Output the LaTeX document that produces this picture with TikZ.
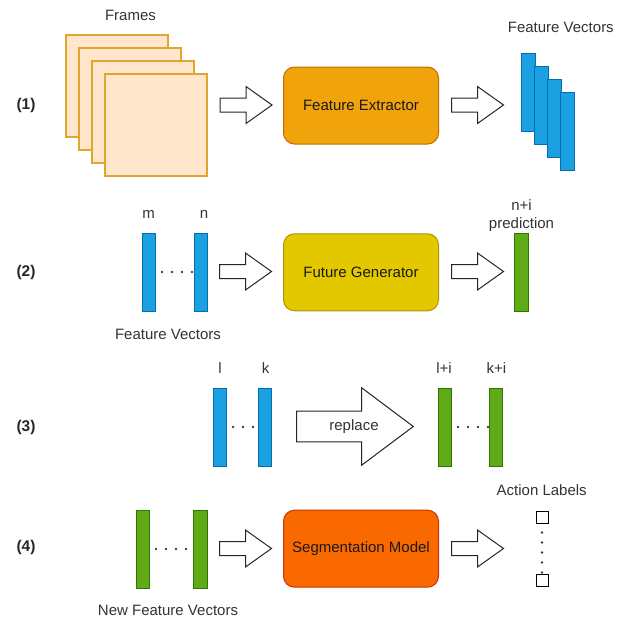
\documentclass[tikz,border=0pt]{standalone}
\usepackage{fontspec}
\setmainfont{Liberation Sans}
\begin{document}
\begin{tikzpicture}[x=1pt,y=-1pt,
  txt/.style={font=\fontsize{15}{18}\selectfont, text=black!80, inner sep=0pt},
  rowlab/.style={font=\fontsize{15.5}{18}\selectfont\bfseries, text=black!85, inner sep=0pt},
  frame/.style={line width=1.3pt},
  proc/.style={rectangle, rounded corners=11pt, minimum width=155pt, minimum height=77pt,
    inner sep=0pt, line width=1pt, font=\fontsize{15}{18}\selectfont, text=black!90},
  bluebar/.style={rectangle, inner sep=0pt, minimum width=13.5pt, minimum height=78pt, line width=1pt},
  greenbar/.style={rectangle, inner sep=0pt, minimum width=13.5pt, minimum height=78pt, line width=1pt},
  dotrow/.style={line width=2.8pt, line cap=round, dash pattern=on 0pt off 10pt, dash phase=7pt, black!75},
  blockarrow/.style={draw=black!85, fill=white, line width=1pt, line join=miter},
  labelbox/.style={rectangle, draw=black, fill=white, line width=1pt, minimum size=12pt, inner sep=0pt},
  smallarrow/.pic={\path[blockarrow] (0,-7) -- (26,-7) -- (26,-18.5) -- (52,0) -- (26,18.5) -- (26,7) -- (0,7) -- cycle;},
]
\definecolor{exorange}{HTML}{F0A30A}\definecolor{exorangeD}{HTML}{BD7000}
\definecolor{genyellow}{HTML}{E3C800}\definecolor{genyellowD}{HTML}{B09500}
\definecolor{segorange}{HTML}{FA6800}\definecolor{segorangeD}{HTML}{C73500}
\definecolor{fvblue}{HTML}{1BA1E2}\definecolor{fvblueD}{HTML}{006EAF}
\definecolor{fvgreen}{HTML}{60A917}\definecolor{fvgreenD}{HTML}{2D7600}
\definecolor{frameF}{HTML}{FFE6CC}\definecolor{frameD}{HTML}{E0A630}
\tikzset{
  frame/.append style={draw=frameD, fill=frameF},
  bluebar/.append style={fill=fvblue, draw=fvblueD},
  greenbar/.append style={fill=fvgreen, draw=fvgreenD},
}
\useasboundingbox (0,0) rectangle (624,621);

% row labels
\node[rowlab] (r1) at (26,105) {(1)};
\node[rowlab] (r2) at (26,272) {(2)};
\node[rowlab] (r3) at (26,427) {(3)};
\node[rowlab] (r4) at (26,547) {(4)};

% ---- row 1: frames -> feature extractor -> feature vectors
\node[txt, anchor=base] (framesT) at (130.5,20) {Frames};
\foreach \i in {0,1,2,3}
  \path[frame] (66+13*\i,35+13*\i) rectangle ++(102,102);
\pic at (220,105) {smallarrow};
\node[proc, fill=exorange, draw=exorangeD] (extract) at (361,105.5) {Feature Extractor};
\pic at (451.5,105) {smallarrow};
\foreach \i in {0,1,2,3}
  \node[bluebar] (fv\i) at (528.7+13*\i,92.5+13*\i) {};
\node[txt, anchor=base] (fvT) at (560.8,32.7) {Feature Vectors};

% ---- row 2: two vectors -> future generator -> prediction
\draw[dotrow] (149,272) -- (201,272);
\node[bluebar] (vm) at (149,272) {};
\node[bluebar] (vn) at (201,272) {};
\node[txt, anchor=base] (mT) at (148.5,218.5) {m};
\node[txt, anchor=base] (nT) at (204,218.5) {n};
\node[txt, anchor=base] (fv2T) at (168,339) {Feature Vectors};
\pic at (219.5,271.5) {smallarrow};
\node[proc, fill=genyellow, draw=genyellowD] (gen) at (361,272.3) {Future Generator};
\pic at (451.5,271.5) {smallarrow};
\node[greenbar] (pred) at (521.7,272) {};
\node[txt, anchor=base] (niT) at (521.5,210) {n+i};
\node[txt, anchor=base] (predT) at (521.5,228) {prediction};

% ---- row 3: replace
\draw[dotrow] (220,427) -- (265,427);
\node[bluebar] (vl) at (220,427) {};
\node[bluebar] (vk) at (265,427) {};
\node[txt, anchor=base] (lT) at (220,373.5) {l};
\node[txt, anchor=base] (kT) at (265.5,373.5) {k};
\path[blockarrow] (296.7,411.2) -- (361.7,411.2) -- (361.7,387.8) -- (413.3,426.5)
  -- (361.7,465.2) -- (361.7,441.8) -- (296.7,441.8) -- cycle;
\node[txt] (replT) at (354,426.5) {replace};
\draw[dotrow] (445,427) -- (496,427);
\node[greenbar] (vli) at (445,427) {};
\node[greenbar] (vki) at (496,427) {};
\node[txt, anchor=base] (liT) at (444,373.5) {l+i};
\node[txt, anchor=base] (kiT) at (496.5,373.5) {k+i};

% ---- row 4: new vectors -> segmentation model -> action labels
\draw[dotrow] (143,549) -- (200.7,549);
\node[greenbar] (na) at (142.9,549) {};
\node[greenbar] (nb) at (200.7,549) {};
\node[txt, anchor=base] (nfvT) at (168,615) {New Feature Vectors};
\pic at (219.5,548.5) {smallarrow};
\node[proc, fill=segorange, draw=segorangeD] (seg) at (361,548.7) {Segmentation Model};
\pic at (451.5,548.5) {smallarrow};
\node[labelbox] (al1) at (542,517) {};
\node[labelbox] (al2) at (542,580.3) {};
\draw[line width=2.8pt, line cap=round, dash pattern=on 0pt off 10pt, dash phase=1pt, black!75]
  (al1.south) -- (al2.north);
\node[txt, anchor=base] (alT) at (541.7,495) {Action Labels};
\end{tikzpicture}
\end{document}
